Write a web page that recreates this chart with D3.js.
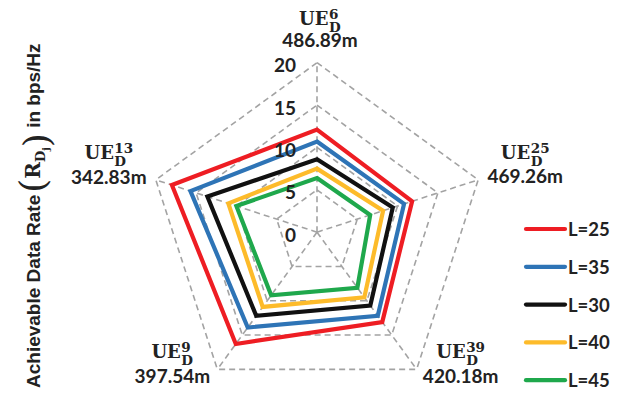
<!DOCTYPE html>
<html>
<head>
<meta charset="utf-8">
<script src="https://cdn.jsdelivr.net/npm/d3@7"></script>
<style>
  html, body { margin: 0; padding: 0; background: #fff; }
  svg { display: block; }
</style>
</head>
<body>
<svg id="chart" width="621" height="394"></svg>
<script>
// Axis categories (UE index and distance), clockwise from the top
const ueIndex = ["6", "25", "39", "9", "13"];
const ueDistance = ["486.89m", "469.26m", "420.18m", "397.54m", "342.83m"];

// Achievable data rate per UE for each L
const seriesNames = ["L=25", "L=35", "L=30", "L=40", "L=45"];
const rateL25 = [12.1, 11.8, 13.1, 16.3, 18.0];
const rateL35 = [10.7, 10.8, 12.2, 13.9, 15.7];
const rateL30 = [8.6, 9.4, 10.7, 12.2, 13.6];
const rateL40 = [7.5, 8.2, 9.5, 10.9, 11.0];
const rateL45 = [6.4, 6.6, 8.1, 9.2, 10.0];
const seriesColors = ["#EE1D23", "#2E74B6", "#111111", "#FDBB2A", "#1FA84C"];

const tickValues = [0, 5, 10, 15, 20];

const seriesValues = [rateL25, rateL35, rateL30, rateL40, rateL45];

const svg = d3.select("#chart");
const cx = 317, cy = 232.2, R = 169.5;

const r = d3.scaleLinear().domain([0, 20]).range([0, R]);
const angle = d3.scaleLinear().domain([0, ueIndex.length]).range([0, 2 * Math.PI]);

const point = (i, v) => [cx + r(v) * Math.sin(angle(i)), cy - r(v) * Math.cos(angle(i))];

const plot = svg.append("g");

// Dashed grid rings
const ringLine = d3.lineRadial()
  .angle((d, i) => angle(i))
  .radius(d => r(d))
  .curve(d3.curveLinearClosed);

plot.append("g")
  .attr("transform", `translate(${cx},${cy})`)
  .selectAll("path")
  .data(tickValues.filter(t => t > 0))
  .join("path")
  .attr("d", t => ringLine(ueIndex.map(() => t)))
  .attr("fill", "none")
  .attr("stroke", "#A3A3A3")
  .attr("stroke-width", 1.6)
  .attr("stroke-dasharray", "6,4");

// Dashed spokes
plot.append("g")
  .selectAll("line")
  .data(ueIndex)
  .join("line")
  .attr("x1", cx).attr("y1", cy)
  .attr("x2", (d, i) => point(i, 20)[0])
  .attr("y2", (d, i) => point(i, 20)[1])
  .attr("stroke", "#A3A3A3")
  .attr("stroke-width", 1.6)
  .attr("stroke-dasharray", "6,4");

// Series polygons
const seriesLine = d3.lineRadial()
  .angle((d, i) => angle(i))
  .radius(d => r(d))
  .curve(d3.curveLinearClosed);

plot.append("g")
  .attr("transform", `translate(${cx},${cy})`)
  .selectAll("path")
  .data(seriesValues)
  .join("path")
  .attr("d", d => seriesLine(d))
  .attr("fill", "none")
  .attr("stroke", (d, i) => seriesColors[i])
  .attr("stroke-width", 4.2)
  .attr("stroke-linejoin", "miter");

// Radial tick labels on the vertical axis
plot.append("g")
  .selectAll("text")
  .data(tickValues)
  .join("text")
  .attr("x", cx - 21)
  .attr("y", t => cy - r(t) + 2)
  .attr("text-anchor", "end")
  .attr("dominant-baseline", "central")
  .attr("font-family", "Lato, sans-serif")
  .attr("font-weight", "bold")
  .attr("font-size", 19)
  .attr("fill", "#222")
  .text(t => t);

// Category labels: offsets of the label block from each outer vertex
const labelOffset = [
  { dx: 3, dy: -16, gap: 21.5 },
  { dx: 47, dy: 3.5, gap: 24 },
  { dx: 44, dy: 14, gap: 25 },
  { dx: -45, dy: 14, gap: 25 },
  { dx: -47, dy: 4, gap: 24.5 }
];

const labels = plot.append("g");
ueIndex.forEach((u, i) => {
  const [vx, vy] = point(i, 20);
  const o = labelOffset[i];
  const x = vx + o.dx, y = vy + o.dy;

  labels.append("text")
    .attr("x", x).attr("y", y)
    .attr("text-anchor", "middle")
    .attr("font-family", "Lato, sans-serif")
    .attr("font-weight", "bold")
    .attr("font-size", 19)
    .attr("fill", "#222")
    .text(ueDistance[i]);

  // "UE" with stacked superscript index and subscript D, in one text element
  const t = labels.append("text")
    .attr("x", 0).attr("y", 0)
    .attr("font-family", "'DejaVu Serif', serif")
    .attr("font-weight", "bold")
    .attr("fill", "#222");
  const ue = t.append("tspan").attr("font-size", 18).text("UE");
  const w = ue.node().getComputedTextLength();
  t.append("tspan").attr("x", w + 0.5).attr("dy", -6.3)
    .attr("font-size", 13.5).text(u);
  t.append("tspan").attr("x", w + 0.5).attr("dy", 12.6)
    .attr("font-size", 13.5).text("D");
  const bb = t.node().getBBox();
  t.attr("transform", `translate(${x - bb.width / 2},${y - o.gap})`);
});

// Legend
const legend = svg.append("g");
seriesNames.forEach((name, i) => {
  const y = 229 + i * 37.8;
  legend.append("line")
    .attr("x1", 526).attr("x2", 565)
    .attr("y1", y).attr("y2", y)
    .attr("stroke", seriesColors[i])
    .attr("stroke-width", 4.2)
    .attr("stroke-linecap", "round");
  legend.append("text")
    .attr("x", 568).attr("y", y)
    .attr("dominant-baseline", "central")
    .attr("font-family", "Lato, sans-serif")
    .attr("font-weight", "bold")
    .attr("font-size", 18.5)
    .attr("fill", "#222")
    .text(name);
});

// Vertical axis title
const title = svg.append("text")
  .attr("transform", "translate(40,388) rotate(-90)")
  .attr("fill", "#222")
  .attr("font-family", "'Liberation Sans', Arial, sans-serif")
  .attr("font-weight", "bold")
  .attr("font-size", 19);
title.append("tspan").text("Achievable Data Rate");
title.append("tspan")
  .attr("font-family", "'DejaVu Serif', serif")
  .attr("font-weight", "normal")
  .attr("font-size", 36)
  .attr("dy", 5)
  .attr("dx", 2)
  .text("(");
title.append("tspan")
  .attr("font-family", "'DejaVu Serif', serif")
  .attr("font-size", 20)
  .attr("dy", -5)
  .text("R");
title.append("tspan")
  .attr("font-family", "'DejaVu Serif', serif")
  .attr("font-size", 13)
  .attr("dy", 5)
  .text("D");
title.append("tspan")
  .attr("font-family", "'DejaVu Serif', serif")
  .attr("font-size", 10)
  .attr("dy", 4)
  .text("j");
title.append("tspan")
  .attr("font-family", "'DejaVu Serif', serif")
  .attr("font-weight", "normal")
  .attr("font-size", 36)
  .attr("dy", 0)
  .text(")");
title.append("tspan")
  .attr("dy", -9)
  .text(" in bps/Hz");
</script>
</body>
</html>
